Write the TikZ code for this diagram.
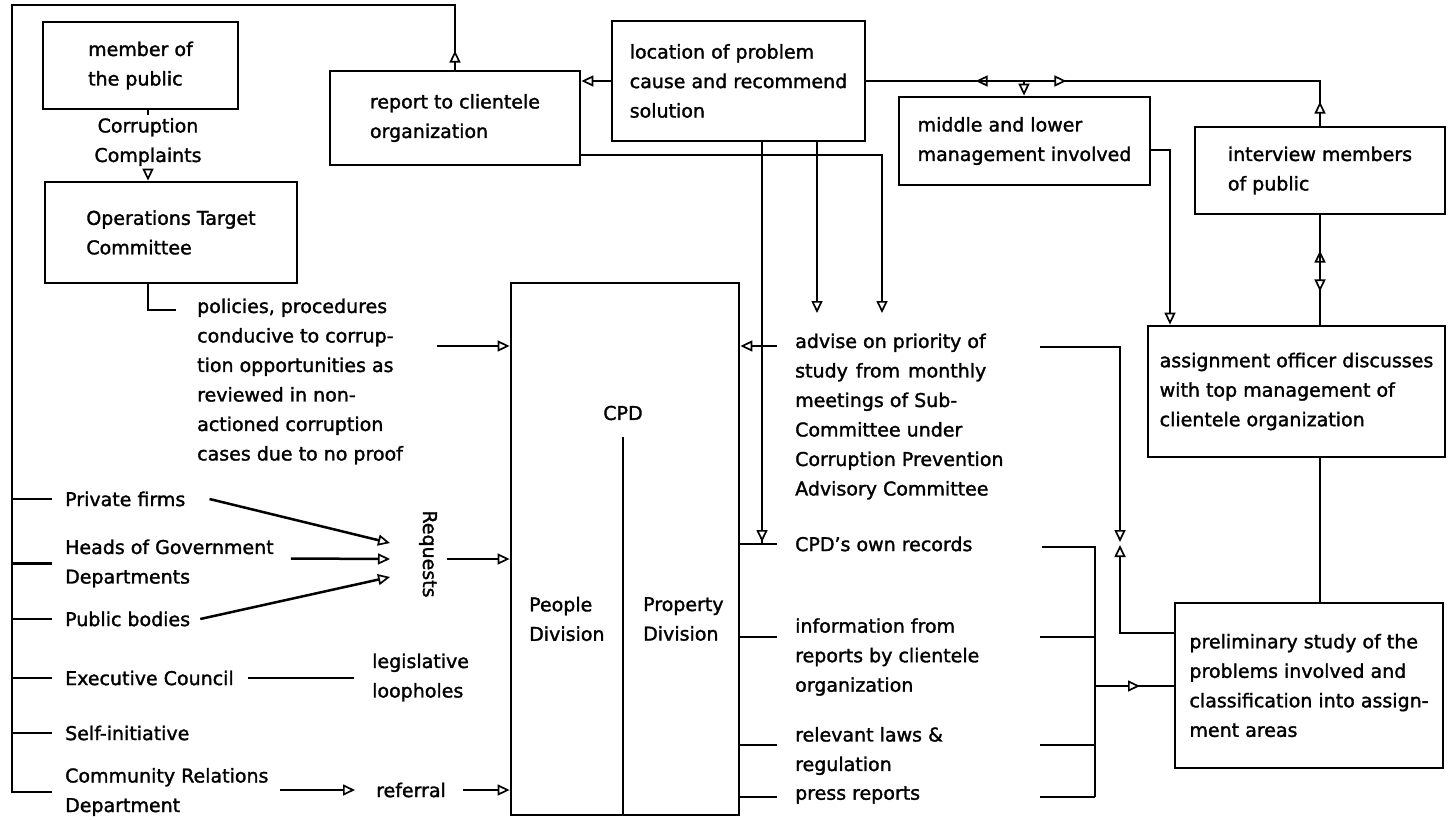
\documentclass[tikz,border=0pt]{standalone}
\usepackage{fontspec}
\setmainfont[FakeBold=1.6]{DejaVu Sans}
\usetikzlibrary{arrows.meta,decorations.markings,calc}
\newcommand{\fs}{\fontsize{19}{29.5}\selectfont}
\begin{document}
\begin{tikzpicture}[x=1pt,y=-1pt,
  >={Triangle[length=12pt,width=11pt,fill=white,line width=1.7pt]},
  ln/.style={line width=2.5pt},
  bx/.style={draw,line width=2.8pt,align=left,font=\fs,inner sep=0pt},
  tx/.style={align=left,font=\fs,inner sep=2pt,anchor=west},
  ma/.style={postaction={decorate,decoration={markings,mark=at position #1 with {\arrow{>}}}}},
]
\useasboundingbox (0,0) rectangle (1450,821);

% boxes
\node[bx,minimum width=195pt,minimum height=87pt] (member) at (140.5,65.5) {member of\\the public};
\node[font=\fs,align=center,inner sep=3pt] (cc) at (148,142) {Corruption\\Complaints};
\node[bx,minimum width=252pt,minimum height=101pt] (otc) at (171,232.5) {Operations Target\\Committee};
\node[bx,minimum width=250pt,minimum height=94pt] (report) at (455,118) {report to clientele\\organization};
\node[bx,minimum width=253pt,minimum height=120pt] (loc) at (738.5,81) {location of problem\\cause and recommend\\solution};
\node[bx,minimum width=251pt,minimum height=88pt] (mgmt) at (1024.5,141) {middle and lower\\management involved};
\node[bx,minimum width=250pt,minimum height=87pt] (inter) at (1320,170.5) {interview members\\of public};
\node[bx,minimum width=297pt,minimum height=131pt] (assign) at (1296.5,391.5) {assignment officer discusses\\with top management of\\clientele organization};
\node[bx,minimum width=268pt,minimum height=165pt] (prelim) at (1309,685.5) {preliminary study of the\\problems involved and\\classification into assign-\\ment areas};
\node[draw,line width=2.8pt,minimum width=228pt,minimum height=532pt,inner sep=0pt] (cpd) at (625,549) {};

% texts
\node[tx] (pol) at (195,381.5) {policies, procedures\\conducive to corrup-\\tion opportunities as\\reviewed in non-\\actioned corruption\\cases due to no proof};
\node[tx] (priv) at (63,499) {Private firms};
\node[tx] (heads) at (63,563.5) {Heads of Government\\Departments};
\node[tx] (pub) at (63,619) {Public bodies};
\node[tx] (exec) at (63,678) {Executive Council};
\node[tx] (legis) at (370,677.5) {legislative\\loopholes};
\node[tx] (self) at (63,733) {Self-initiative};
\node[tx] (comm) at (63,792) {Community Relations\\Department};
\node[tx] (refl) at (374,790) {referral};
\node[font=\fs,rotate=-90,inner sep=2pt] (req) at (428,554) {Requests};
\node[font=\fs,inner sep=2pt] (cpdl) at (623,413) {CPD};
\node[tx] (people) at (527,619) {People\\Division};
\node[tx] (prop) at (641,619) {Property\\Division};
\node[tx] (adv) at (793,416.5) {advise on priority of\\study\hspace{0.42em}from\hspace{0.42em}monthly\\meetings of Sub-\\Committee under\\Corruption Prevention\\Advisory Committee};
\node[tx] (own) at (793,544) {CPD’s own records};
\node[tx] (info) at (793,657) {information from\\reports by clientele\\organization};
\node[tx] (laws) at (793,751) {relevant laws \&\\regulation};
\node[tx] (press) at (793,795) {press reports};

% coordinates
\coordinate (tl) at (12,5);
\coordinate (tr) at (455,5);
\coordinate (bl) at (comm.west -| tl);
\coordinate (polL) at (176,310);
\coordinate (polA) at (437,346);
\coordinate (reqA) at (447,559);
\coordinate (r1) at (882,155);
\coordinate (r2) at (882,313);
\coordinate (r3) at (817,313);
\coordinate (o1) at (762,544);
\coordinate (a1) at (777,346);
\coordinate (a2) at (1040,347);
\coordinate (a3) at (1120,347);
\coordinate (a4) at (1120,542);
\coordinate (p1) at (1120,633);
\coordinate (p2) at (1120,545);
\coordinate (own2) at (1042,547);
\coordinate (b0) at (1095,547);
\coordinate (b1) at (1095,686);
\coordinate (b3) at (1095,797);
\coordinate (inf1) at (777,637);
\coordinate (inf2) at (1040,637);
\coordinate (law1) at (777,745);
\coordinate (law2) at (1040,745);
\coordinate (pr1) at (777,797);
\coordinate (pr2) at (1040,797);
\coordinate (m1) at (1170,150);
\coordinate (t1) at (1320,81);
\coordinate (t2) at (1024,81);
\coordinate (dv) at (623,437);

% member -> OTC
\draw[ln] (member.south -| cc) -- (cc.north);
\draw[ln,->] (cc.south) -- (cc.south |- otc.north);
\draw[ln] (otc.south -| cc) |- (polL);
\draw[ln,->] (polA) -- (polA -| cpd.west);

% left bus
\draw[ln,ma=19pt] (report.north) -- (tr);
\draw[ln,line cap=rect] (tr) -- (tl) -- (bl);
\foreach \n in {priv,heads,pub,exec,self,comm}
  \draw[ln] (\n.west -| tl) -- ([xshift=-11pt]\n.west);

% requests
\draw[ln,->] ([xshift=22pt]priv.east) -- ($(req.center)+(-38,-11)$);
\draw[ln,->] ([shift={(15,-5)}]heads.east) -- ($(req.center)+(-38,5)$);
\draw[ln,->] ([xshift=8pt]pub.east) -- ($(req.center)+(-38,23)$);
\draw[ln,->] (reqA) -- (reqA -| cpd.west);

% executive council
\draw[ln] ([xshift=12pt]exec.east) -- ([xshift=-16pt]legis.west |- exec.east);

% community relations
\draw[ln,->] ([shift={(9,-2)}]comm.east) -- ([xshift=-19pt]refl.west);
\draw[ln,->] ([xshift=15pt]refl.east) -- (refl.east -| cpd.west);

% CPD divider
\draw[ln] (dv) -- (dv |- cpd.south);

% location box connectors
\draw[ln,->] (loc.west) -- (loc.west -| report.east);
\draw[ln,->] (r1 -| report.east) -- (r1) -- (r2);
\draw[ln,->] (loc.south -| r3) -- (r3);
\draw[ln,ma=-2pt] (loc.south -| o1) -- (o1);

% right side of CPD
\draw[ln] (own.west -| cpd.east) -- ([xshift=-16pt]own.west);
\draw[ln,->] (a1) -- (a1 -| cpd.east);
\draw[ln] (inf1 -| cpd.east) -- (inf1);
\draw[ln] (law1 -| cpd.east) -- (law1);
\draw[ln] (pr1 -| cpd.east) -- (pr1);

% advise and prelim
\draw[ln,->] (a2) -- (a3) -- (a4);
\draw[ln,->] (p1 -| prelim.west) -- (p1) -- (p2);

% bus to prelim
\draw[ln] (own2) -- (b0) -- (b3);
\draw[ln] (inf2) -- (inf2 -| b0);
\draw[ln] (law2) -- (law2 -| b0);
\draw[ln] (pr2) -- (pr2 -| b0);
\draw[ln,ma=45pt] (b1) -- (b1 -| prelim.west);

% right column
\draw[ln] (assign.south -| inter) -- (prelim.north -| inter);
\draw[ln,ma=74pt] (assign.north -| inter) -- (inter.south);
\draw[ln,ma=76pt] (inter.south) -- (assign.north -| inter);
\draw[ln,->] (m1 -| mgmt.east) -- (m1) -- (m1 |- assign.north);

% top right bus
\draw[ln,ma=24pt,ma=389pt] (inter.north) -- (t1) -- (t1 -| loc.east);
\draw[ln,ma=200pt] (loc.east) -- (t1);
\draw[ln,->] (t2) -- (t2 |- mgmt.north);
\end{tikzpicture}
\end{document}
